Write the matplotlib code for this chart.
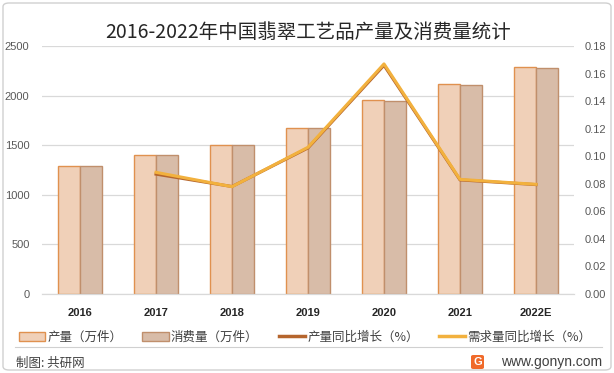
import numpy as np
import matplotlib
matplotlib.use('Agg')
import matplotlib.pyplot as plt
from matplotlib.patches import FancyBboxPatch, Patch
from matplotlib.lines import Line2D

plt.rcParams['font.family'] = ['Noto Sans CJK SC', 'DejaVu Sans']

# ---------------------------------------------------------------------------
# Data
# ---------------------------------------------------------------------------
YEARS = ['2016', '2017', '2018', '2019', '2020', '2021', '2022E']
OUTPUT = [1288, 1398, 1507, 1676, 1960, 2120, 2292]        # 产量（万件）
CONSUME = [1286, 1397, 1506, 1674, 1950, 2105, 2278]       # 消费量（万件）
OUTPUT_YOY = [np.nan, 0.0870, 0.0780, 0.1060, 0.1660, 0.0828, 0.0794]
DEMAND_YOY = [np.nan, 0.0883, 0.0779, 0.1065, 0.1670, 0.0832, 0.0796]

# ---------------------------------------------------------------------------
# Colours
# ---------------------------------------------------------------------------
OUT_FILL, OUT_EDGE = '#f0d0b8', '#e0914f'
CON_FILL, CON_EDGE = '#d8bca8', '#c08f6c'
OUT_LINE = '#b5652d'
DEM_LINE = '#f2b13e'
GRID = '#d9d9d9'
TEXT = '#404040'

fig = plt.figure(figsize=(6.14, 3.73), dpi=100)
ax = fig.add_axes([42 / 614, 1 - 294 / 373, 532 / 614, 248 / 373])
ax2 = ax.twinx()

x = np.arange(len(YEARS))
w = 0.285
ax.bar(x - w / 2, OUTPUT, w, color=OUT_FILL, edgecolor=OUT_EDGE, linewidth=1.0, zorder=2)
ax.bar(x + w / 2, CONSUME, w, color=CON_FILL, edgecolor=CON_EDGE, linewidth=1.0, zorder=2)

ax2.plot(x, OUTPUT_YOY, color=OUT_LINE, lw=2.2, zorder=3)
ax2.plot(x, DEMAND_YOY, color=DEM_LINE, lw=2.2, zorder=4)

ax.set_xlim(-0.5, len(YEARS) - 0.5)
ax.set_ylim(0, 2500)
ax.set_yticks(range(0, 2501, 500))
ax2.set_ylim(0, 0.18)
ax2.set_yticks(np.arange(0, 0.181, 0.02))
ax2.set_yticklabels([f'{v:.2f}' for v in np.arange(0, 0.181, 0.02)])

ax.set_xticks(x)
ax.set_xticklabels(YEARS, fontfamily='Liberation Sans', fontweight='bold', fontsize=8, color='#262626')
ax.yaxis.grid(True, color=GRID, lw=0.9, zorder=0)
ax.set_axisbelow(True)

for a in (ax, ax2):
    for s in ('top', 'left', 'right'):
        a.spines[s].set_visible(False)
    a.spines['bottom'].set_color(GRID)
    a.tick_params(length=0)
ax.tick_params(axis='x', pad=10)
ax.tick_params(axis='y', pad=9, labelsize=8, labelcolor='#595959')
ax2.tick_params(axis='y', pad=8, labelsize=8, labelcolor='#595959')
for lab in ax.get_yticklabels() + ax2.get_yticklabels():
    lab.set_fontfamily('Liberation Sans')

# Title
fig.text(308 / 614, 1 - 33 / 373, '2016-2022年中国翡翠工艺品产量及消费量统计',
         ha='center', va='center', fontsize=14, color='#262626')

# Legend
handles = [
    Patch(facecolor=OUT_FILL, edgecolor=OUT_EDGE, lw=1.0),
    Patch(facecolor=CON_FILL, edgecolor=CON_EDGE, lw=1.0),
    Line2D([], [], color=OUT_LINE, lw=2.5),
    Line2D([], [], color=DEM_LINE, lw=2.5),
]
labels = ['产量（万件）', '消费量（万件）', '产量同比增长（%）', '需求量同比增长（%）']
fig.legend(handles, labels, loc='center', bbox_to_anchor=(305 / 614, 1 - 337 / 373),
           ncol=4, frameon=False, fontsize=9, handlelength=2.1, handleheight=0.7,
           handletextpad=0.2, columnspacing=1.6, labelcolor=TEXT)

# Footer
fig.add_artist(Line2D([15 / 614, 602 / 614], [1 - 347 / 373] * 2, color='#d0d0d0', lw=0.8))
fig.text(16 / 614, 1 - 363 / 373, '制图: 共研网', ha='left', va='center', fontsize=9, color=TEXT)
fig.text(602 / 614, 1 - 362 / 373, 'www.gonyn.com', ha='right', va='center', fontsize=10,
         color=TEXT, fontfamily='Liberation Sans')
logo = FancyBboxPatch((471 / 614, 1 - 369 / 373), 13 / 614, 14 / 373,
                      boxstyle='round,pad=0,rounding_size=0.004',
                      transform=fig.transFigure, facecolor='#f06a2a', edgecolor='none')
fig.add_artist(logo)
fig.text(477.5 / 614, 1 - 362 / 373, 'G', ha='center', va='center', fontsize=8,
         fontweight='bold', color='white', fontfamily='Liberation Sans')

# Outer border
border = FancyBboxPatch((3 / 614, 3 / 373), 608 / 614, 367 / 373,
                        boxstyle='round,pad=0,rounding_size=0.01',
                        transform=fig.transFigure, facecolor='none',
                        edgecolor='#d0d0d0', lw=1.0)
fig.add_artist(border)

fig.savefig('out.png', dpi=100, facecolor='white')
